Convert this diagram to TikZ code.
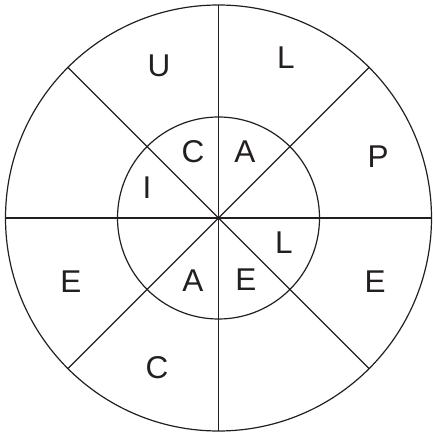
\documentclass[tikz,border=0pt]{standalone}
\usepackage{fontspec}
\setmainfont{Liberation Sans}
\usepackage{tikz}
\usetikzlibrary{positioning}
\usepackage{xcolor}
\definecolor{ink}{HTML}{231F20}

\tikzset{
  ring/.style={circle, draw=ink, line width=1.2pt, inner sep=0pt, outer sep=0pt},
  spoke/.style={draw=ink, line width=1.2pt},
  letter/.style={text=ink, inner sep=0pt, font=\fontsize{31.5}{31.5}\selectfont}
}

\begin{document}
\begin{tikzpicture}[x=1pt, y=1pt]
  \useasboundingbox (0,0) rectangle (432,436);
  \coordinate (c) at (218.5,218);
  \node[ring, minimum size=426pt] (outer) at (c) {};
  \node[ring, minimum size=202pt] (inner) at (c) {};
  % spokes across both rings
  \draw[spoke] (outer.180) -- (outer.0);
  \draw[spoke] (outer.90) -- (outer.270);
  \draw[spoke] (outer.135) -- (outer.315);
  \draw[spoke] (outer.45) -- (outer.225);
  % outer ring
  \node[letter] (u)  at (159,370) {U};
  \node[letter] (l)  at (286,378) {L};
  \node[letter] (p)  at (378,279) {P};
  \node[letter] (er) at (375,154) {E};
  \node[letter] (cb) at (157,68)  {C};
  \node[letter] (el) at (71,154)  {E};
  % inner ring
  \node[letter] (ci) at (193,284) {C};
  \node[letter] (at) at (245,284) {A};
  \node[letter] (ii) at (147,248) {I};
  \node[letter] (li) at (284,193) {L};
  \node[letter] (ei) at (246,156) {E};
  \node[letter] (ab) at (193,155) {A};
\end{tikzpicture}
\end{document}
